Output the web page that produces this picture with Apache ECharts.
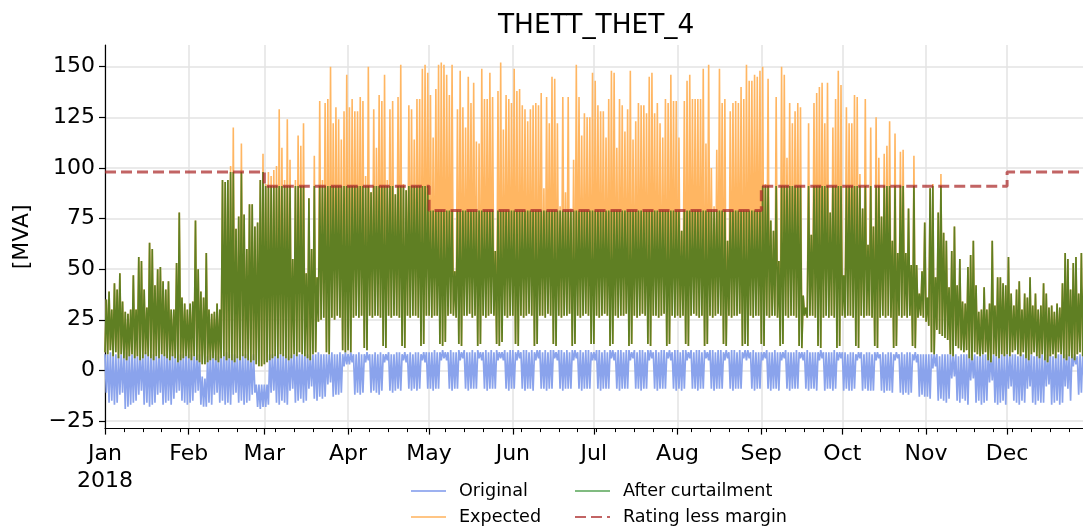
<!DOCTYPE html>
<html>
<head>
<meta charset="utf-8">
<script src="https://cdn.jsdelivr.net/npm/echarts@6/dist/echarts.min.js"></script>
<style>
html,body{margin:0;padding:0;background:#fff;}
#chart{width:1083px;height:532px;}
</style>
</head>
<body>
<div id="chart"></div>
<script>
// ---- axis labels ----
const monthNames = ['Jan\n2018','Feb','Mar','Apr','May','Jun','Jul','Aug','Sep','Oct','Nov','Dec'];
const monthStartDay = [0,31,59,90,120,151,181,212,243,273,304,334];
const yTicks = [-25,0,25,50,75,100,125,150];
const ratingByMonth = [98,98,91,91,79,79,79,79,91,91,91,98];

// ---- daily values (one value per day, 365 days) ----
// Original: night-time top and daytime bottom
const origHigh = [
8,8,9,8,8,7,8,8,9,8,8,8,7,8,8,9,8,8,8,7,8,8,8,9,8,8,7,8,8,8,9,
8,8,7,8,8,-3,-4,7,8,8,8,7,8,8,9,8,8,8,7,8,8,8,8,7,8,-7,-7,-7,
-7,-7,8,8,8,9,8,8,8,7,8,8,9,8,8,8,8,7,8,8,9,8,8,8,8,9,8,8,9,8,9,
8,9,8,8,9,8,8,9,8,8,9,8,9,8,8,9,8,8,9,9,8,9,8,9,8,9,9,8,9,9,
9,9,10,9,9,10,9,9,10,9,9,10,9,10,9,9,10,9,10,9,9,10,9,10,9,10,9,9,10,9,10,
10,9,10,9,10,10,9,10,9,10,10,9,10,9,10,10,9,10,10,9,10,9,10,10,9,10,9,10,10,9,
9,10,10,9,10,9,10,10,9,10,10,9,10,10,9,10,9,10,10,9,10,10,9,10,9,10,10,9,10,9,10,
10,9,10,10,9,10,9,10,10,9,10,9,10,10,9,10,10,9,10,9,10,10,9,10,9,10,10,9,10,9,9,
9,9,10,9,9,10,9,9,9,10,9,9,9,10,9,9,9,10,9,9,9,9,10,9,9,9,9,10,9,9,
9,9,8,9,9,8,9,9,8,9,9,8,9,9,8,9,8,9,9,8,9,8,9,8,9,9,8,9,8,8,8,
8,8,8,8,8,7,8,8,8,8,8,8,7,8,8,8,8,8,8,7,8,8,8,8,8,8,7,8,8,8,
8,8,8,8,7,8,8,8,8,8,7,8,8,8,8,8,8,7,8,8,8,8,8,8,8,8,7,8,8,8,8
];
const origLow = [
-11,-16,-15,-17,-16,-12,-11,-19,-18,-17,-16,-15,-12,-10,-17,-16,-18,-17,-16,-12,-11,-17,-16,-15,-17,-14,-11,-10,-15,-16,-17,
-16,-15,-11,-10,-17,-18,-18,-16,-17,-12,-11,-16,-15,-17,-16,-17,-12,-11,-16,-15,-17,-16,-15,-12,-11,-18,-19,-18,
-18,-17,-11,-10,-16,-17,-15,-16,-17,-10,-9,-16,-15,-14,-16,-15,-9,-8,-14,-15,-13,-14,-13,-7,-6,-13,-12,-12,-11,2,3,
3,4,-12,-11,-12,-11,4,5,-11,-10,-11,-12,-10,4,5,-10,-11,-10,-9,-10,5,4,-9,-10,-9,-10,-9,5,4,-9,
-9,-10,-9,-9,5,6,5,-9,-10,-9,-9,5,6,-9,-10,-9,-9,-9,6,5,-9,-10,-9,-9,-9,5,6,5,-9,-10,-9,
-9,5,6,-9,-10,-9,-9,-10,5,6,-9,-9,-10,-9,-9,6,5,-9,-10,-9,-9,-9,5,6,-9,-10,-9,-9,-9,5,
5,-9,-10,-9,-9,-9,6,5,-9,-10,-9,-9,-9,5,6,-9,-9,-10,-9,-9,5,6,-9,-10,-9,-9,-9,6,5,-9,-10,
-9,-10,-9,5,6,-9,-9,-10,-9,-9,6,5,-9,-10,-9,-9,-9,5,6,-9,-10,-9,-9,-9,6,5,6,-9,-10,-9,-9,
5,6,-9,-10,-9,-9,-10,5,6,-9,-10,-9,-9,-9,6,5,-9,-10,-9,-9,-10,5,6,-10,-9,-9,-10,-9,5,6,
-10,-9,-10,-10,-9,5,6,-10,-9,-10,-10,-10,5,6,-10,-11,-10,-10,-11,5,6,-11,-12,-11,-12,-11,5,4,-13,-12,-13,
-13,-14,1,2,-15,-14,-15,-16,-14,-4,-3,-15,-16,-14,-15,-17,-5,-4,-16,-15,-17,-16,-15,-6,-5,-16,-17,-16,-15,-17,
-9,-8,-15,-16,-17,-15,-16,-9,-8,-16,-17,-15,-16,-16,-8,-7,-17,-16,-15,-17,-16,-8,-9,-15,2,3,-12,-11,-5,-4,-10
];
// Expected and After curtailment share the same night-time minimum
const nightLow = [
9,8,10,7,9,6,8,6,5,7,8,6,7,5,6,8,7,6,5,7,6,8,7,6,5,7,6,4,5,6,7,
6,5,7,5,4,3,3,4,5,6,5,4,6,7,5,6,5,4,6,5,7,6,5,4,5,3,2,2,
3,4,5,6,7,6,8,7,6,5,6,8,7,9,8,7,6,5,8,9,24,25,26,9,8,26,25,27,26,10,9,
10,9,26,27,26,27,11,10,27,26,27,27,26,12,11,27,26,27,27,26,12,11,27,26,27,27,26,12,13,27,
27,26,27,27,13,12,14,27,28,27,26,13,12,27,27,28,26,27,12,13,27,26,27,28,27,13,12,14,27,26,27,
27,13,12,27,26,27,28,27,12,13,27,27,26,28,27,13,12,27,26,27,27,28,12,13,27,26,27,28,27,13,
13,27,26,27,28,27,12,13,27,26,27,27,28,12,13,27,26,27,28,27,13,12,27,27,26,27,28,12,13,27,26,
27,26,27,13,12,27,28,27,26,27,12,13,27,26,27,28,27,13,12,27,26,27,27,28,12,13,12,27,26,27,27,
13,12,27,26,27,27,26,12,13,27,26,27,27,26,12,11,27,26,27,27,26,12,11,26,27,26,27,26,11,12,
27,26,27,27,26,12,11,27,26,27,27,26,12,11,26,27,26,27,26,11,12,27,26,27,26,27,12,11,26,27,26,
24,22,9,8,20,18,17,16,15,8,7,12,11,10,9,10,6,5,9,8,7,8,9,5,4,8,7,6,8,7,
8,7,9,10,8,7,9,6,5,8,9,7,6,8,5,4,7,8,6,9,8,6,5,7,6,5,8,9,7,8,10
];
const expectedPeak = [
35,39,30,43,40,48,34,29,28,30,47,30,56,54,40,31,63,60,42,50,51,44,40,44,30,30,53,78,36,33,30,
33,34,74,50,39,36,58,30,28,29,33,30,94,93,94,101,120,70,76,112,77,60,82,82,71,73,94,107,
92,98,96,99,101,129,110,94,124,104,55,94,116,111,122,48,85,60,106,46,133,94,132,134,150,122,130,124,114,128,146,
130,134,128,128,135,133,96,150,88,129,110,136,133,146,94,129,133,87,135,151,92,89,131,129,114,134,134,149,151,147,
136,115,139,151,152,151,146,136,151,49,129,148,130,120,145,132,142,113,112,149,134,134,147,135,59,138,152,119,136,134,132,
149,138,139,131,129,123,129,131,132,131,137,90,135,122,145,144,122,81,135,88,135,80,104,151,135,116,127,125,125,147,
143,131,128,128,115,134,148,147,110,134,131,118,129,148,114,123,132,131,131,127,145,147,127,132,122,115,134,132,146,133,133,
115,69,133,143,146,134,134,134,134,149,112,151,100,81,109,149,132,134,64,128,132,133,132,140,134,151,143,143,146,145,148,
150,92,144,74,69,135,54,150,146,105,132,122,128,132,130,37,31,122,67,132,137,140,142,122,142,78,120,134,148,141,
47,130,122,122,136,135,97,80,134,62,120,71,125,105,76,107,111,123,64,117,58,108,109,58,80,52,106,52,38,49,73,
36,90,92,46,78,97,68,64,41,59,71,42,55,34,33,51,57,64,42,29,30,41,30,33,64,32,46,46,43,42,
56,38,32,40,44,30,38,36,46,32,38,30,32,43,38,31,32,29,33,31,43,58,55,40,53,56,38,58,50,58,45
];
const curtailedPeak = [
35,39,30,43,40,48,34,29,28,30,47,30,56,54,40,31,63,60,42,50,51,44,40,44,30,30,53,78,36,33,30,
33,34,74,50,39,36,58,30,28,29,33,30,94,93,94,98,98,70,76,98,77,60,82,82,71,73,94,98,
91,91,91,91,91,91,91,91,91,91,55,91,91,91,91,48,85,60,91,46,91,91,91,91,91,91,91,91,91,91,91,
91,91,91,91,91,91,91,91,88,91,91,91,91,91,91,91,91,87,91,91,91,89,91,91,91,91,91,91,91,91,
79,79,79,79,79,79,79,79,79,49,79,79,79,79,79,79,79,79,79,79,79,79,79,79,59,79,79,79,79,79,79,
79,79,79,79,79,79,79,79,79,79,79,79,79,79,79,79,79,79,79,79,79,79,79,79,79,79,79,79,79,79,
79,79,79,79,79,79,79,79,79,79,79,79,79,79,79,79,79,79,79,79,79,79,79,79,79,79,79,79,79,79,79,
79,69,79,79,79,79,79,79,79,79,79,79,79,79,79,79,79,79,64,79,79,79,79,79,79,79,79,79,79,79,79,
91,91,91,74,69,91,54,91,91,91,91,91,91,91,91,37,31,91,67,91,91,91,91,91,91,78,91,91,91,91,
47,91,91,91,91,91,91,80,91,62,91,71,91,91,76,91,91,91,64,91,58,91,91,58,80,52,91,52,38,49,73,
36,90,91,46,78,91,68,64,41,59,71,42,55,34,33,51,57,64,42,29,30,41,30,33,64,32,46,46,43,42,
56,38,32,40,44,30,38,36,46,32,38,30,32,43,38,31,32,29,33,31,43,58,55,40,53,56,38,58,50,58,45
];

// ---- build series (day index on x; first value at midnight, second at noon) ----
function dailyPairs(first, second) {
  const out = [];
  for (let d = 0; d < first.length; d++) {
    out.push([d, first[d]]);
    out.push([d + 0.5, second[d]]);
  }
  out.push([first.length, first[first.length - 1]]);
  return out;
}
const originalData = dailyPairs(origHigh, origLow);
const expectedData = dailyPairs(nightLow, expectedPeak);
const curtailedData = dailyPairs(nightLow, curtailedPeak);
const ratingData = monthStartDay.map((d, i) => [d, ratingByMonth[i]]);
ratingData.push([365, ratingByMonth[11]]);

const weeklyTicks = [];
for (let d = 7; d < 365; d += 7) weeklyTicks.push(d);

// the figure is cropped at the right edge: visible x range ends before Dec 31
const X_MAX = 362.1;

const FONT = 'DejaVu Sans';
const chart = echarts.init(document.getElementById('chart'), null, {renderer: 'canvas'});
const legendText = {fontFamily: FONT, fontSize: 17.6, color: '#000', padding: [0, 0, 0, 8]};
const hiddenSymbol = {color: 'rgba(0,0,0,0)', borderColor: 'rgba(0,0,0,0)', borderWidth: 0};
chart.setOption({
  animation: false,
  backgroundColor: '#ffffff',
  title: {
    text: 'THETT_THET_4', left: 498, top: 13, padding: 0,
    textStyle: {fontFamily: FONT, fontSize: 26.4, fontWeight: 'normal', color: '#000'}
  },
  grid: {left: 105, top: 45, right: 0, height: 383.6, containLabel: false},
  legend: [
    {
      left: 405, top: 477, orient: 'vertical', itemGap: 8, itemWidth: 35, itemHeight: 14,
      textStyle: legendText, itemStyle: hiddenSymbol,
      data: [
        {name: 'Original', lineStyle: {color: '#9db1f0', width: 2}},
        {name: 'Expected', lineStyle: {color: '#ffc584', width: 2}}
      ]
    },
    {
      left: 569, top: 477, orient: 'vertical', itemGap: 8, itemWidth: 35, itemHeight: 14,
      textStyle: legendText, itemStyle: hiddenSymbol,
      data: [
        {name: 'After curtailment', lineStyle: {color: '#80bb80', width: 2}},
        {name: 'Rating less margin'}
      ]
    }
  ],
  xAxis: [
    {
      type: 'value', min: 0, max: X_MAX,
      axisLine: {show: true, onZero: false, lineStyle: {color: '#000', width: 1.2}},
      axisTick: {show: true, customValues: monthStartDay, length: 6, lineStyle: {color: '#000', width: 1.2}},
      axisLabel: {
        customValues: monthStartDay,
        formatter: v => { const i = monthStartDay.indexOf(v); return i >= 0 ? monthNames[i] : ''; },
        fontFamily: FONT, fontSize: 22, color: '#000', lineHeight: 27, margin: 12
      },
      splitLine: {show: true, lineStyle: {color: '#e3e3e3', width: 1.5}}
    },
    {
      type: 'value', min: 0, max: X_MAX, position: 'bottom', gridIndex: 0,
      axisLine: {show: false, onZero: false},
      axisLabel: {show: false},
      splitLine: {show: false},
      axisTick: {show: true, customValues: weeklyTicks, length: 3.5, lineStyle: {color: '#000', width: 1}}
    }
  ],
  yAxis: {
    type: 'value', min: -28.75, max: 160.7,
    name: '[MVA]', nameLocation: 'middle', nameRotate: 90, nameGap: 72,
    nameTextStyle: {fontFamily: FONT, fontSize: 22, color: '#000'},
    axisLine: {show: true, onZero: false, lineStyle: {color: '#000', width: 1.2}},
    axisTick: {show: true, customValues: yTicks, length: 6, lineStyle: {color: '#000', width: 1.2}},
    axisLabel: {
      customValues: yTicks,
      formatter: v => (v < 0 ? '\u2212' + Math.abs(v) : String(v)),
      fontFamily: FONT, fontSize: 22, color: '#000', margin: 10
    },
    splitLine: {show: true, lineStyle: {color: '#e3e3e3', width: 1.5}}
  },
  series: [
    {
      name: 'Original', type: 'line', data: originalData, symbol: 'none', silent: true,
      lineStyle: {color: '#8aa3ec', width: 1.7}, itemStyle: {color: '#8aa3ec'}, z: 2
    },
    {
      name: 'Expected', type: 'line', data: expectedData, symbol: 'none', silent: true,
      lineStyle: {color: '#ffb662', width: 1.6}, itemStyle: {color: '#ffb662'}, z: 3
    },
    {
      name: 'After curtailment', type: 'line', data: curtailedData, symbol: 'none', silent: true,
      lineStyle: {color: '#5f7f23', width: 1.7}, itemStyle: {color: '#5f7f23'}, z: 4
    },
    {
      name: 'Rating less margin', type: 'line', step: 'end', data: ratingData, symbol: 'none', silent: true,
      lineStyle: {color: 'rgba(170,40,40,0.72)', width: 3, type: [11, 5]},
      itemStyle: {color: 'rgba(170,40,40,0.72)'}, z: 5
    }
  ]
});
</script>
</body>
</html>
